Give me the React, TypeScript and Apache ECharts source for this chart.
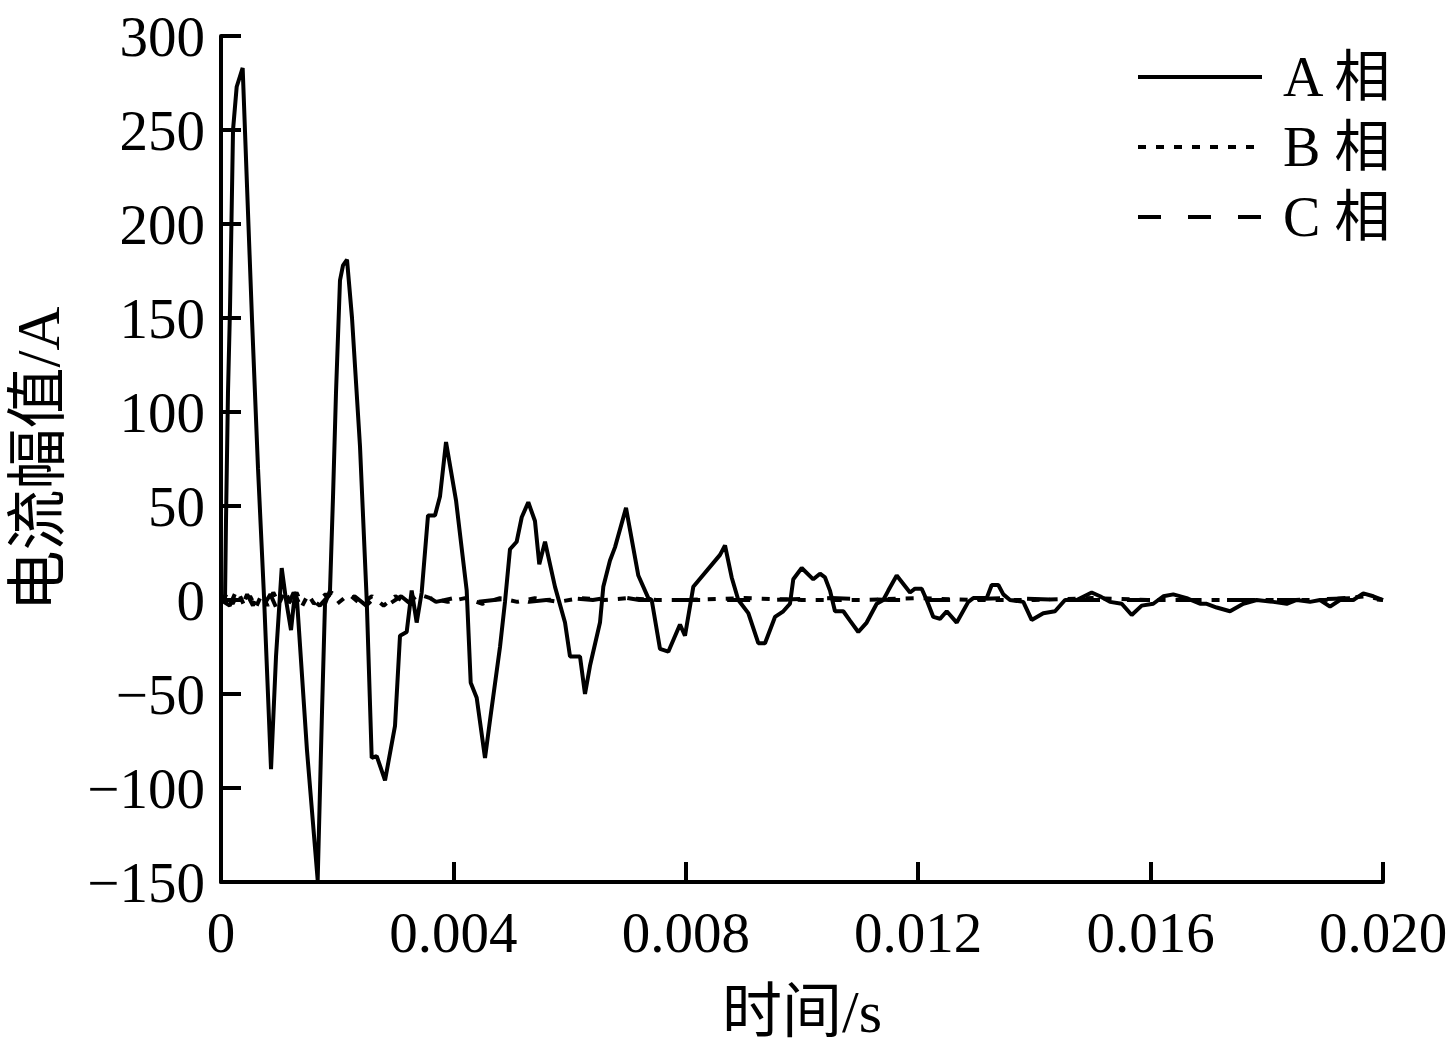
import React, { useEffect, useRef } from "react";
import * as echarts from "echarts";

const FONT = "'Liberation Serif', 'Times New Roman', 'Noto Sans CJK SC', serif";

const xTickValues = [0, 0.004, 0.008, 0.012, 0.016, 0.02];
const legendNames = ["A 相", "B 相", "C 相"];

// Phase A (time s, current A)
const phaseA: [number, number][] = [
  [0, 0], [0.000069, 0], [0.000086, 42], [0.00012, 110], [0.000155, 155], [0.000207, 250],
  [0.00027, 273], [0.000373, 283], [0.000448, 220], [0.000534, 149], [0.000637, 70],
  [0.00074, 2], [0.000861, -90], [0.000947, -30], [0.001045, 17], [0.001119, 0],
  [0.001205, -16], [0.001274, 4], [0.001308, 0], [0.00148, -80], [0.001664, -149],
  [0.001738, -60], [0.00179, -2], [0.001876, 5], [0.001928, 55], [0.001979, 110],
  [0.002048, 170], [0.0021, 178], [0.002169, 181], [0.002255, 150], [0.002392, 82],
  [0.002508, 0], [0.002594, -84], [0.00268, -83], [0.002823, -96], [0.002995, -67],
  [0.003081, -19], [0.003196, -17], [0.003282, 5], [0.003368, -12], [0.003454, 4],
  [0.003563, 45], [0.003683, 45], [0.003769, 55], [0.003873, 84], [0.004045, 53],
  [0.004229, 5], [0.004298, -44], [0.004401, -52], [0.004544, -84], [0.00463, -64],
  [0.004802, -25], [0.004888, -1], [0.004974, 27], [0.005089, 31], [0.005176, 44],
  [0.005289, 52], [0.005404, 42], [0.005478, 19], [0.005577, 31], [0.005749, 7],
  [0.005921, -12], [0.006007, -30], [0.006179, -30], [0.006265, -50], [0.006351, -35],
  [0.006523, -12], [0.00658, 7], [0.006695, 21], [0.006781, 28], [0.006971, 49],
  [0.007183, 13], [0.007355, 1], [0.007413, 0], [0.007556, -26], [0.007699, -27.5],
  [0.0079, -13], [0.007986, -19], [0.008129, 7], [0.008589, 24], [0.008675, 29],
  [0.00879, 12], [0.008904, 0], [0.009076, -7], [0.009248, -23], [0.009363, -23],
  [0.009535, -9], [0.009678, -6], [0.009793, -2], [0.00985, 11], [0.009995, 17],
  [0.010194, 11], [0.01031, 14], [0.010396, 12], [0.010482, 5], [0.010568, -6],
  [0.010711, -6], [0.010826, -11], [0.010969, -17], [0.011113, -12], [0.011286, -2],
  [0.011399, 0], [0.011485, 5], [0.01163, 13], [0.011859, 4], [0.011945, 6],
  [0.01206, 6], [0.012146, 0], [0.01226, -9], [0.012375, -10], [0.012491, -6],
  [0.012663, -12], [0.012862, -1], [0.012948, 1], [0.013179, 1], [0.013265, 8],
  [0.013379, 8], [0.013465, 3], [0.01358, 0], [0.013809, -1], [0.013953, -10.6],
  [0.014153, -7], [0.014355, -6], [0.014527, 0], [0.014728, 0], [0.014986, 4],
  [0.015129, 2], [0.015301, -1], [0.015503, -2], [0.015675, -8], [0.015847, -3],
  [0.016046, -2], [0.016219, 2], [0.016391, 3], [0.016621, 1], [0.01685, -2],
  [0.016966, -2], [0.017138, -4], [0.017367, -6], [0.017596, -2], [0.017826, 0],
  [0.018112, -1], [0.018343, -2], [0.018515, 0], [0.018744, -1], [0.018916, 0],
  [0.019088, -3.5], [0.01926, 0], [0.019489, 0], [0.019661, 3.5], [0.019833, 2],
  [0.02, 0],
];

// Phase B (dotted)
const phaseB: [number, number][] = [
  [0, 0], [0.0001, 3], [0.0002, -2], [0.0003, 4], [0.0004, -3], [0.0005, 2],
  [0.0006, -4], [0.0007, 3], [0.0008, -3], [0.0009, 4], [0.001, -2], [0.0011, 5],
  [0.0012, -2], [0.0013, 4], [0.0014, -3], [0.0015, 3], [0.0016, -2], [0.0018, 3],
  [0.002, -2], [0.0022, 3], [0.0024, -2], [0.0026, 2], [0.0028, -3], [0.003, 2],
  [0.0032, -2], [0.0034, 3], [0.0036, 1], [0.0039, -1], [0.0042, 1], [0.0045, -2],
  [0.0048, 1], [0.0051, -1], [0.0054, 1], [0.0058, -1], [0.0062, 1], [0.0066, 0],
  [0.007, 1], [0.0075, 0], [0.008, 0], [0.009, 1], [0.01, 0], [0.011, 0],
  [0.012, 1], [0.013, 0], [0.014, 0], [0.015, 1], [0.016, 0], [0.017, 0],
  [0.018, 0], [0.019, 0], [0.0197, 2], [0.02, 0],
];

// Phase C (dashed)
const phaseC: [number, number][] = [
  [0, 0], [0.00015, -3], [0.00025, 4], [0.00035, -4], [0.00045, 3], [0.00055, -3],
  [0.00065, 5], [0.00075, -2], [0.00085, 3], [0.00095, -4], [0.00105, 2],
  [0.00115, -3], [0.00125, 4], [0.00135, -2], [0.00145, 3], [0.0017, -3],
  [0.0019, 4], [0.0021, -2], [0.0023, 2], [0.0025, -3], [0.0027, 3], [0.0029, -2],
  [0.0031, 2], [0.0033, -3], [0.0035, 3], [0.0037, -1], [0.004, 1], [0.0044, -1],
  [0.0047, 0], [0.005, 1], [0.0053, -1], [0.0056, 0], [0.006, 1], [0.0064, 0],
  [0.0068, 2], [0.0072, 0], [0.0078, 0], [0.0085, 0], [0.0095, 0], [0.0105, 1],
  [0.0115, 0], [0.0125, 0], [0.0135, 1], [0.0145, 0], [0.0155, 0], [0.0165, 0],
  [0.0175, 0], [0.0185, 0], [0.0195, 1], [0.02, 0],
];

const fmtY = (v: number) => (v < 0 ? "\u2212" + Math.abs(v) : String(v));
const fmtX = (v: number) => (v === 0 ? "0" : v.toFixed(3));

const dashes: (number[] | null)[] = [null, [8, 10], [23, 27]];

export default function App() {
  const ref = useRef<HTMLDivElement>(null);
  useEffect(() => {
    if (!ref.current) return;
    const chart = echarts.init(ref.current, undefined, { renderer: "svg" });
    const axisCommon = {
      axisLine: { show: true, onZero: false, lineStyle: { color: "#000", width: 4 } },
      axisTick: { show: true, inside: true, length: 20, lineStyle: { color: "#000", width: 4 } },
      splitLine: { show: false },
    };
    const legendGraphics: any[] = [];
    legendNames.forEach((name, i) => {
      const y = 77 + i * 70;
      legendGraphics.push({
        type: "line",
        shape: { x1: 1138, y1: y, x2: 1262, y2: y },
        style: { stroke: "#000", lineWidth: 4, lineDash: dashes[i] || undefined },
      });
      legendGraphics.push({
        type: "text",
        x: 1283,
        y,
        style: {
          text: name,
          fontFamily: FONT,
          fontSize: 56,
          fill: "#000",
          verticalAlign: "middle",
          textVerticalAlign: "middle",
        },
      });
    });
    const lineSeries = (name: string, data: [number, number][], i: number) => ({
      name,
      type: "line",
      data,
      showSymbol: false,
      symbol: "none",
      lineStyle: { color: "#000", width: 4, type: dashes[i] || "solid" },
      itemStyle: { color: "#000" },
      z: i === 0 ? 3 : 2,
    });
    chart.setOption({
      animation: false,
      backgroundColor: "#fff",
      grid: {
        left: 221,
        top: 36,
        right: 66,
        bottom: 165,
        containLabel: false,
        outerBoundsMode: "none",
      },
      graphic: legendGraphics,
      xAxis: {
        type: "value",
        min: 0,
        max: 0.02,
        interval: 0.004,
        name: "时间/s",
        nameLocation: "middle",
        nameGap: 100,
        nameTextStyle: { fontFamily: FONT, fontSize: 60, color: "#000" },
        axisLabel: {
          formatter: fmtX,
          fontFamily: FONT,
          fontSize: 57,
          color: "#000",
          margin: 22,
          customValues: xTickValues,
        },
        ...axisCommon,
      },
      yAxis: {
        type: "value",
        min: -150,
        max: 300,
        interval: 50,
        name: "电流幅值/A",
        nameLocation: "middle",
        nameGap: 152,
        nameTextStyle: { fontFamily: FONT, fontSize: 61, color: "#000" },
        axisLabel: {
          formatter: fmtY,
          fontFamily: FONT,
          fontSize: 57,
          color: "#000",
          margin: 16,
        },
        ...axisCommon,
      },
      series: [
        lineSeries("A 相", phaseA, 0),
        lineSeries("B 相", phaseB, 1),
        lineSeries("C 相", phaseC, 2),
      ],
    });
    return () => chart.dispose();
  }, []);
  return <div ref={ref} style={{ width: 1449, height: 1047, position: "absolute", left: 0, top: 0 }} />;
}
